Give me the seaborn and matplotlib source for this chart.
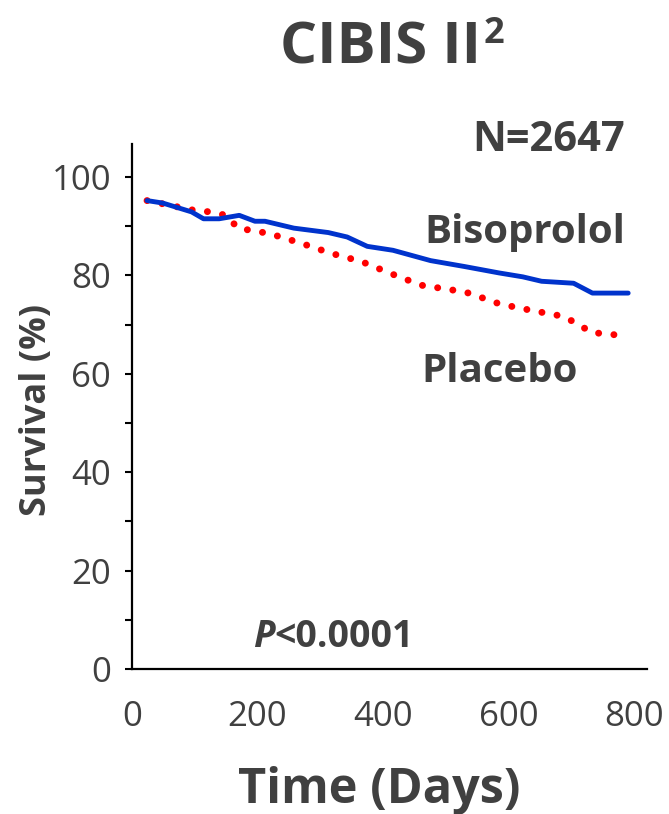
import numpy as np
import pandas as pd
import matplotlib
matplotlib.use("Agg")
import matplotlib.pyplot as plt
from matplotlib.ticker import MultipleLocator
import seaborn as sns

# 값은 그림에서 읽어 온 추정치 (Kaplan-Meier 곡선)
bis_days = [24, 49, 95, 114, 139, 171, 196, 212, 258, 313, 343, 375, 416,
            476, 530, 585, 623, 653, 704, 734, 791]
bis_surv = [95.2, 94.7, 92.9, 91.5, 91.5, 92.2, 91.0, 91.0, 89.6, 88.7, 87.8,
            85.9, 85.1, 83.0, 81.8, 80.5, 79.7, 78.8, 78.4, 76.4, 76.4]

pla_days = [24, 100, 125, 150, 169, 219, 268, 317, 366, 414, 461, 512, 537,
            586, 636, 686, 710, 732, 780]
pla_surv = [95.2, 93.2, 92.9, 92.2, 89.6, 88.5, 86.6, 84.5, 82.8, 80.3, 78.0,
            77.0, 76.4, 74.2, 72.9, 71.7, 70.2, 68.4, 67.8]

x_ticks = [0, 200, 400, 600, 800]
y_ticks = [0, 20, 40, 60, 80, 100]

bis = pd.DataFrame({"day": bis_days, "surv": bis_surv})
pla = pd.DataFrame({"day": pla_days, "surv": pla_surv})

sns.set_style("white")
plt.rcParams["font.family"] = ["Open Sans", "DejaVu Sans"]
GREY = "#404040"

W, H = 669, 814
fig = plt.figure(figsize=(W / 100, H / 100), dpi=100)
fx = lambda px: px / W
fy = lambda py: 1 - py / H

ax = fig.add_axes([fx(132), fy(669), (647 - 132) / W, (669 - 144) / H])

# 위약군: 둥근 점선
sns.lineplot(data=pla, x="day", y="surv", ax=ax, color="#ff0000",
             linewidth=5.0, sort=False)
dots = ax.lines[-1]
dots.set_dashes((0.01, 2.2))
dots.set_dash_capstyle("round")
# 비소프롤롤군: 실선
sns.lineplot(data=bis, x="day", y="surv", ax=ax, color="#0033cc",
             linewidth=3.5, sort=False)
ax.lines[-1].set_solid_capstyle("round")

ax.set_xlim(0, 821)
ax.set_ylim(0, 106.7)
ax.set_xticks(x_ticks)
ax.set_yticks(y_ticks)
ax.yaxis.set_minor_locator(MultipleLocator(10))
ax.tick_params(axis="y", which="both", length=5, width=1.5, color="black",
               labelsize=25, labelcolor=GREY, pad=10, left=True)
ax.tick_params(axis="x", length=0, labelsize=25, labelcolor=GREY, pad=22)
for s in ["top", "right"]:
    ax.spines[s].set_visible(False)
for s in ["left", "bottom"]:
    ax.spines[s].set_color("black")
    ax.spines[s].set_linewidth(1.6)
ax.set_xlabel("")
ax.set_ylabel("")

# 축 제목
fig.text(fx(379), fy(803), "Time (Days)", fontsize=35, fontweight="bold",
         color=GREY, ha="center", va="baseline")
fig.text(fx(37), fy(410), "Survival (%)", fontsize=26, fontweight="bold",
         color=GREY, ha="center", va="center", rotation=90)

# 제목 + 위첨자
title = fig.text(fx(280), fy(63), "CIBIS II", fontsize=42, fontweight="bold",
                 color=GREY, ha="left", va="baseline")
ax.annotate("2", xy=(1, 1), xycoords=title, xytext=(2, 2),
            textcoords="offset points", fontsize=26, fontweight="bold",
            color=GREY, ha="left", va="top")

# 주석들
fig.text(fx(472), fy(151), "N=2647", fontsize=30, fontweight="bold",
         color=GREY, ha="left", va="baseline")
fig.text(fx(424), fy(243), "Bisoprolol", fontsize=29, fontweight="bold",
         color=GREY, ha="left", va="baseline")
fig.text(fx(421), fy(382), "Placebo", fontsize=29, fontweight="bold",
         color=GREY, ha="left", va="baseline")
p = fig.text(fx(253), fy(647), "P", fontsize=27, fontweight="bold",
             fontstyle="italic", color=GREY, ha="left", va="baseline")
ax.annotate("<0.0001", xy=(1, 0), xycoords=p, fontsize=27,
            fontweight="bold", color=GREY, ha="left", va="bottom")

fig.savefig("out.png", dpi=100)
